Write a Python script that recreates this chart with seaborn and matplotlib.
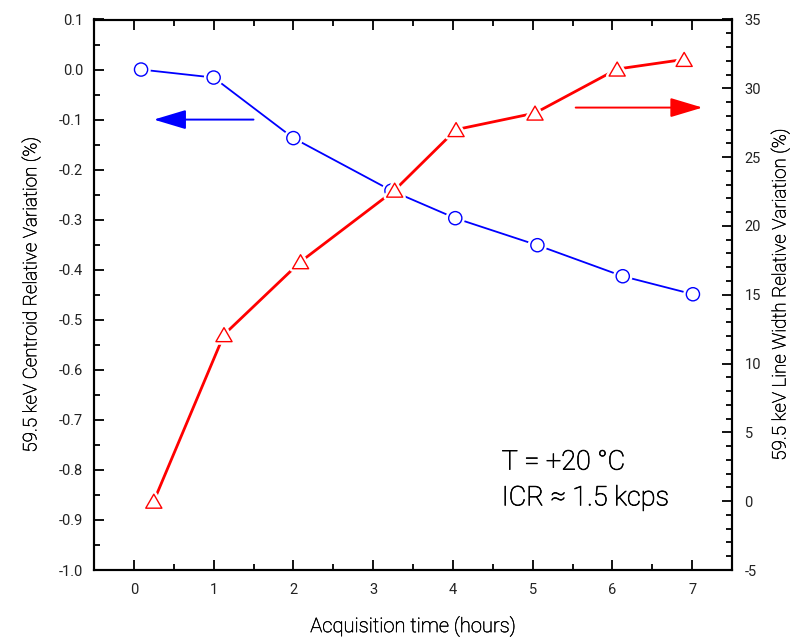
import matplotlib
matplotlib.use("Agg")
import matplotlib.pyplot as plt
import matplotlib.patheffects as pe
from matplotlib.ticker import MultipleLocator, FormatStrFormatter
from matplotlib.markers import MarkerStyle
from matplotlib.path import Path
import pandas as pd
import seaborn as sns

# Centroid shift of the 59.5 keV line (left axis, %)
hours_centroid = [0.09, 1.0, 2.0, 3.23, 4.03, 5.06, 6.13, 7.01]
centroid_var = [0.0, -0.016, -0.137, -0.242, -0.297, -0.351, -0.413, -0.449]

# Line width change of the 59.5 keV line (right axis, %)
hours_width = [0.25, 1.13, 2.09, 3.27, 4.04, 5.03, 6.06, 6.90]
width_var = [0.0, 12.1, 17.4, 22.6, 27.0, 28.2, 31.4, 32.1]

conditions = ["T = +20 °C", "ICR ≈ 1.5 kcps"]

df_c = pd.DataFrame({"hours": hours_centroid, "var": centroid_var})
df_w = pd.DataFrame({"hours": hours_width, "var": width_var})

sns.set_theme(style="white")
plt.rcParams["font.family"] = ["Roboto", "DejaVu Sans"]
plt.rcParams["font.weight"] = "light"
plt.rcParams["axes.labelweight"] = "light"
plt.rcParams["axes.unicode_minus"] = False
plt.rcParams["axes.edgecolor"] = "black"
plt.rcParams["axes.linewidth"] = 1.5

TXT = "#000000"
TICK_TXT = "#222222"
BLUE = "#0000ff"
RED = "#ff0000"

fig = plt.figure(figsize=(7.92, 6.37), dpi=100)
ax = fig.add_axes([94 / 792, 1 - 570 / 637, 638 / 792, 550.5 / 637])
ax2 = ax.twinx()

halo = [pe.withStroke(linewidth=4.5, foreground="white")]
ink = [pe.withStroke(linewidth=0.35, foreground=TXT)]

# Blue series: centroid
sns.lineplot(data=df_c, x="hours", y="var", ax=ax, color=BLUE, lw=1.3,
             sort=False, legend=False)
sns.scatterplot(data=df_c, x="hours", y="var", ax=ax, marker="o", s=90,
                color="white", edgecolor=BLUE, linewidth=1.0, zorder=3,
                legend=False).collections[-1].set_path_effects(halo)

# Red series: line width
tri = MarkerStyle(Path([(-1, -0.866), (1, -0.866), (0, 0.866), (-1, -0.866)],
                       closed=True))
sns.lineplot(data=df_w, x="hours", y="var", ax=ax2, color=RED, lw=2.0,
             sort=False, legend=False)
sns.scatterplot(data=df_w, x="hours", y="var", ax=ax2, marker=tri, s=135,
                color="white", edgecolor=RED, linewidth=1.0, zorder=3,
                legend=False).collections[-1].set_path_effects(halo)

# Axis ranges and ticks
ax.set_xlim(-0.5, 7.5)
ax.set_ylim(-1.0, 0.1)
ax2.set_ylim(-5, 35)

ax.xaxis.set_major_locator(MultipleLocator(1))
ax.xaxis.set_minor_locator(MultipleLocator(0.5))
ax.yaxis.set_major_locator(MultipleLocator(0.1))
ax.yaxis.set_minor_locator(MultipleLocator(0.05))
ax.yaxis.set_major_formatter(FormatStrFormatter("%.1f"))
ax2.yaxis.set_major_locator(MultipleLocator(5))
ax2.yaxis.set_minor_locator(MultipleLocator(1))

ax.tick_params(axis="x", which="both", direction="in", top=True, bottom=True,
               labelsize=10.5, labelcolor=TICK_TXT, pad=9)
ax.tick_params(axis="y", which="both", direction="in", left=True, right=False,
               labelsize=10.5, labelcolor=TICK_TXT, pad=8)
ax2.tick_params(axis="y", which="both", direction="in", left=False, right=True,
                labelsize=10.5, labelcolor=TICK_TXT, pad=9)
for a in (ax, ax2):
    a.tick_params(which="major", length=7.5, width=1.3, color="black")
    a.tick_params(which="minor", length=4, width=1.3, color="black")
    for s in a.spines.values():
        s.set_linewidth(1.5)
        s.set_color("black")
    for lab in a.get_xticklabels() + a.get_yticklabels():
        lab.set_fontweight("normal")

ax.set_xlabel("Acquisition time (hours)", fontsize=14.5, color=TXT, labelpad=14)
ax.set_ylabel("59.5 keV Centroid Relative Variation (%)", fontsize=13.5,
              color=TXT, labelpad=13)
ax2.set_ylabel("59.5 keV Line Width Relative Variation (%)", fontsize=13.5,
               color=TXT, labelpad=7)
for lab in (ax.xaxis.label, ax.yaxis.label, ax2.yaxis.label):
    lab.set_path_effects(ink)

# Arrows pointing to the axis each series belongs to
ax.annotate("", xy=(0.25, -0.1), xytext=(1.5, -0.1),
            arrowprops=dict(arrowstyle="-|>,head_length=1.0,head_width=0.3",
                            mutation_scale=20, color=BLUE, lw=1.4,
                            shrinkA=0, shrinkB=0))
ax2.annotate("", xy=(7.13, 28.6), xytext=(5.54, 28.6),
             arrowprops=dict(arrowstyle="-|>,head_length=1.0,head_width=0.3",
                             mutation_scale=20, color=RED, lw=1.4,
                             shrinkA=0, shrinkB=0))

# Measurement conditions
for i, yf in enumerate((0.196, 0.131)):
    t = ax.text(0.639, yf, conditions[i], transform=ax.transAxes, ha="left",
                va="center", fontsize=19.5, color=TXT)
    t.set_path_effects([pe.withStroke(linewidth=0.5, foreground=TXT)])

fig.savefig("out.png", dpi=100)
